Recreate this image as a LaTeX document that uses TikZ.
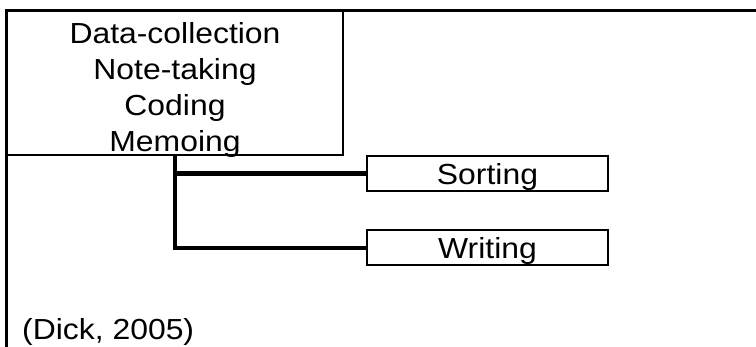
\documentclass[tikz,border=0pt]{standalone}
\usepackage{fontspec}
\setmainfont[FakeStretch=1.1]{Liberation Sans}
\usetikzlibrary{positioning}

\begin{document}
\begin{tikzpicture}[x=1pt, y=-1pt, font=\fontsize{29}{36.3}\selectfont,
    phase/.style={draw, line width=2pt, minimum width=241pt, minimum height=35pt,
                  inner sep=0pt, text height=22pt, text depth=0pt},
    link/.style={line width=4.5pt}]
  \useasboundingbox (0,0) rectangle (756,347);

  % Rahmen
  \draw[line width=3pt] (756,11) -| (6,347);

  % Phasen
  \node[draw, line width=2pt, minimum width=336pt, minimum height=144pt, inner sep=0pt,
        align=center, text height=138pt, text depth=0pt] (collect) at (175,83)
        {Data-collection\\Note-taking\\Coding\\Memoing};
  \node[phase] (sort) at (487.5,173.5) {Sorting};
  \node[phase, below=37.5pt of sort] (write) {Writing};

  % Verbindungen
  \draw[link] (collect.south) |- (sort.west);
  \draw[link] (collect.south) |- (write.west);

  % Quelle
  \node[anchor=base west, inner sep=0pt] (src) at (22,340) {(Dick, 2005)};
\end{tikzpicture}
\end{document}
